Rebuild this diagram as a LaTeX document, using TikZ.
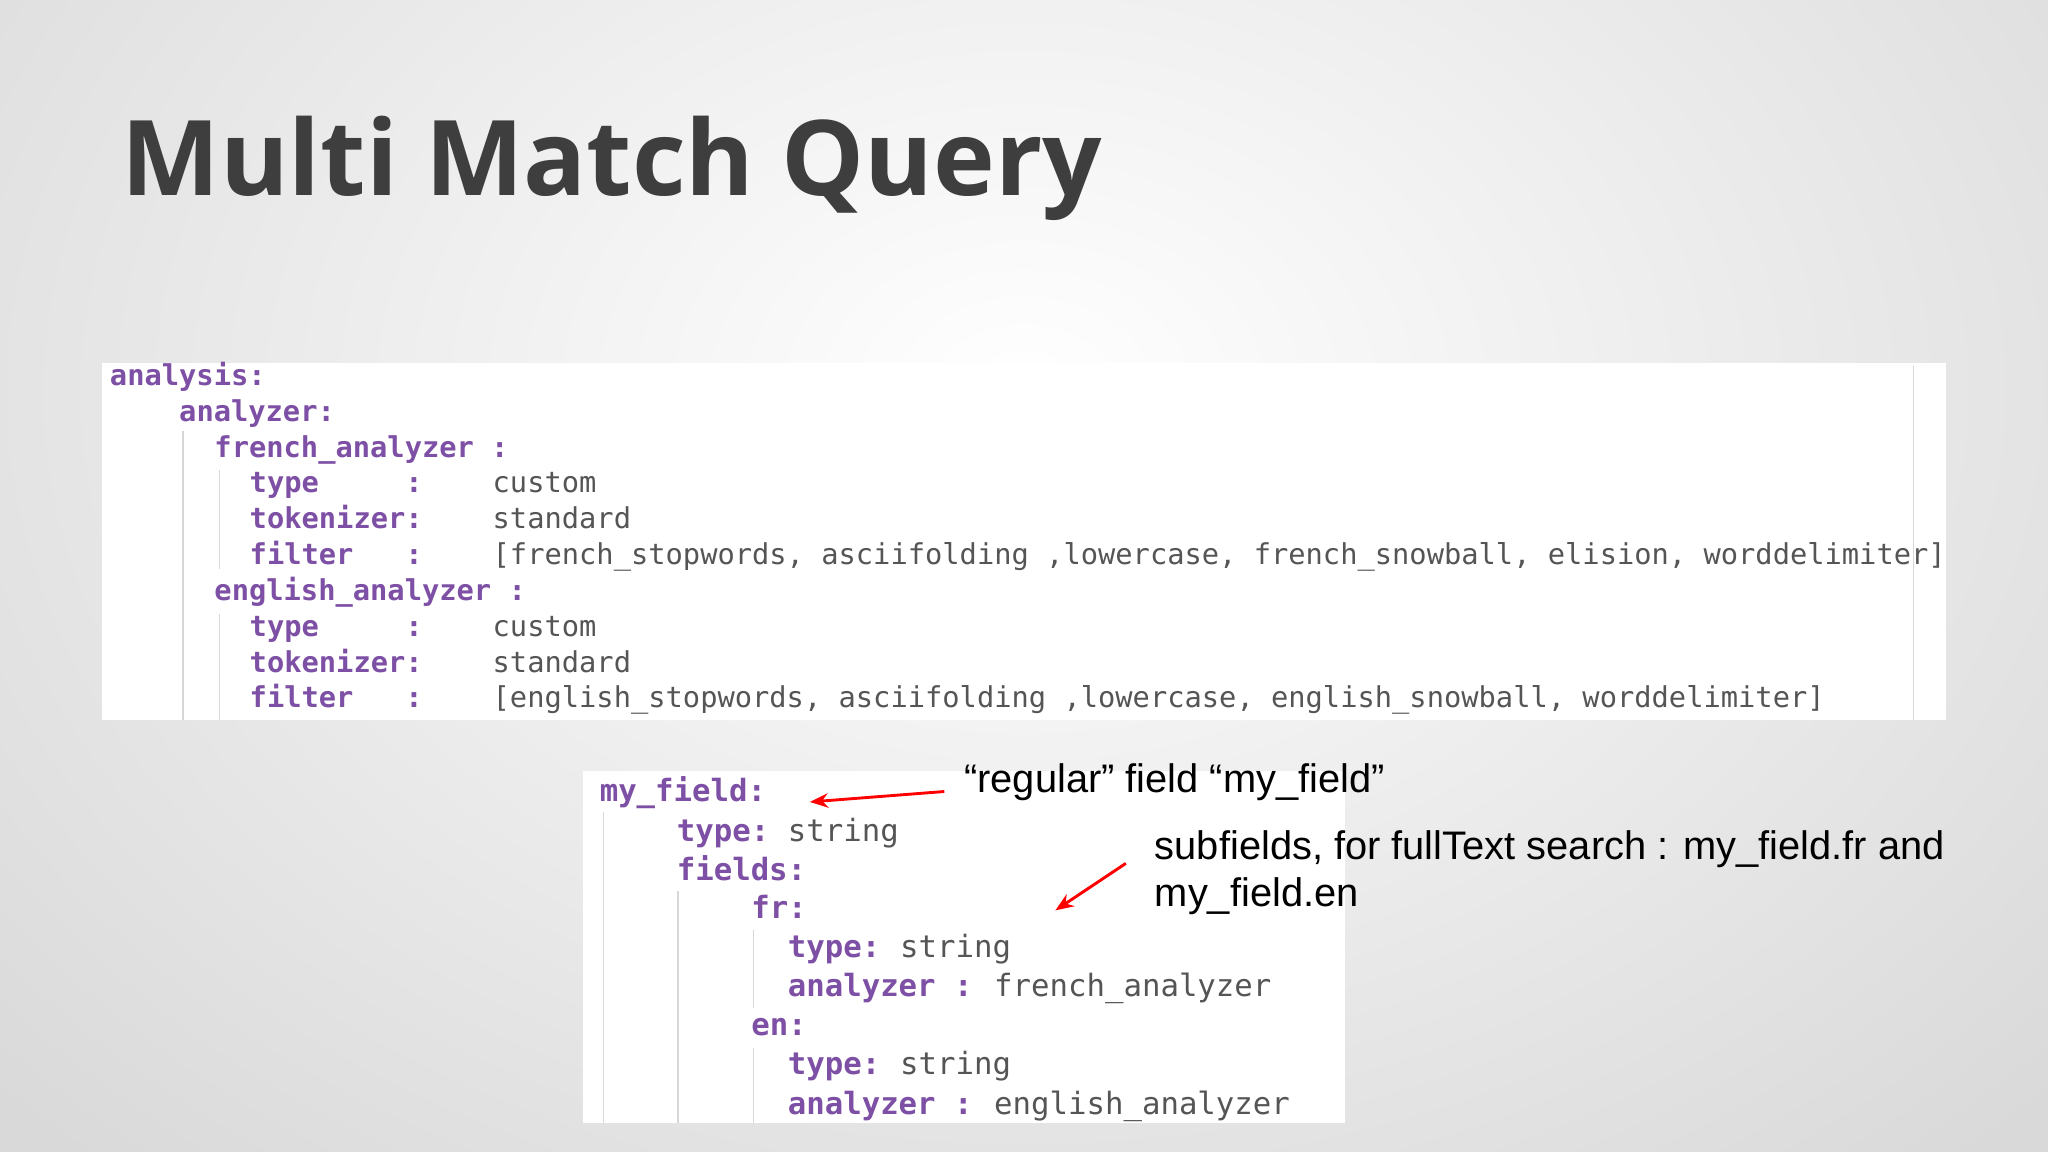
\documentclass[tikz,border=0pt]{standalone}
\usepackage{fontspec}
\setmainfont{Open Sans}
\newfontfamily\codefont{DejaVu Sans Mono}
\newfontfamily\notefont{Liberation Sans}
\definecolor{keyc}{RGB}{125,80,165}
\definecolor{valc}{RGB}{85,85,85}
\definecolor{guide}{RGB}{215,215,215}
\definecolor{titlec}{RGB}{62,62,62}
\tikzset{
  k/.style={anchor=base west,inner sep=0pt,font=\codefont\fontsize{22}{22}\selectfont\bfseries,text=keyc},
  v/.style={anchor=base west,inner sep=0pt,font=\codefont\fontsize{22}{22}\selectfont,text=valc},
  kb/.style={k,font=\codefont\fontsize{23.5}{23.5}\selectfont\bfseries},
  vb/.style={v,font=\codefont\fontsize{23.5}{23.5}\selectfont},
  note/.style={anchor=base west,inner sep=0pt,font=\notefont\fontsize{30.5}{30.5}\selectfont,text=black},
  gl/.style={draw=guide,line width=1pt},
  redarrow/.style={draw=red,line width=2.2pt,-{Stealth[length=14pt,width=11pt]}}
}
\usetikzlibrary{arrows.meta}
\begin{document}
\begin{tikzpicture}[x=1pt,y=-1pt]
\useasboundingbox (0,0) rectangle (1568,882);
\shade[inner color=white,outer color=black!15] (-300,-500) rectangle (1868,1100);
\node[anchor=base west,inner sep=0pt,font=\fontsize{80}{80}\selectfont\bfseries,text=titlec] (title) at (93,150) {Multi Match Query};
% top block
\fill[white] (78,278) rectangle (1490,551);
\draw[gl] (140,330)--(140,551);
\draw[gl] (168,360)--(168,436);
\draw[gl] (168,470)--(168,551);
\draw[gl] (1465,280)--(1465,551);
\node[k] (a1) at (84,295) {analysis:};
\node[k] (a2) at (137,323) {analyzer:};
\node[k] (a3) at (164,350) {french\_analyzer :};
\node[k] (a4) at (191,377) {type~~~~~:};
\node[v] (a4v) at (377,377) {custom};
\node[k] (a5) at (191,405) {tokenizer:};
\node[v] (a5v) at (377,405) {standard};
\node[k] (a6) at (191,432) {filter~~~:};
\node[v] (a6v) at (377,432) {[french\_stopwords, asciifolding ,lowercase, french\_snowball, elision, worddelimiter]};
\node[k] (a7) at (164,460) {english\_analyzer :};
\node[k] (a8) at (191,487) {type~~~~~:};
\node[v] (a8v) at (377,487) {custom};
\node[k] (a9) at (191,515) {tokenizer:};
\node[v] (a9v) at (377,515) {standard};
\node[k] (a10) at (191,542) {filter~~~:};
\node[v] (a10v) at (377,542) {[english\_stopwords, asciifolding ,lowercase, english\_snowball, worddelimiter]};
% bottom block
\fill[white] (446,590) rectangle (1030,860);
\draw[gl] (462,622)--(462,860);
\draw[gl] (519,682)--(519,860);
\draw[gl] (577,712)--(577,772);
\draw[gl] (577,802)--(577,860);
\node[kb] (b1) at (459,614) {my\_field:};
\node[kb] (b2) at (518,644) {type:};
\node[vb] (b2v) at (603,644) {string};
\node[kb] (b3) at (518,674) {fields:};
\node[kb] (b4) at (575,703) {fr:};
\node[kb] (b5) at (603,733) {type:};
\node[vb] (b5v) at (689,733) {string};
\node[kb] (b6) at (603,763) {analyzer :};
\node[vb] (b6v) at (761,763) {french\_analyzer};
\node[kb] (b7) at (575,793) {en:};
\node[kb] (b8) at (603,823) {type:};
\node[vb] (b8v) at (689,823) {string};
\node[kb] (b9) at (603,853) {analyzer :};
\node[vb] (b9v) at (761,853) {english\_analyzer};
% notes
\node[note] (n1) at (738,607) {“regular” field “my\_field”};
\node[note] (n2) at (884,658) {subfields, for fullText search : my\_field.fr and};
\node[note] (n3) at (884,694) {my\_field.en};
\coordinate (t1) at (620,614);
\coordinate (s1) at (723,606);
\coordinate (t2) at (808,697);
\coordinate (s2) at (862,661);
\draw[redarrow] (s1)--(t1);
\draw[redarrow] (s2)--(t2);
\end{tikzpicture}
\end{document}
